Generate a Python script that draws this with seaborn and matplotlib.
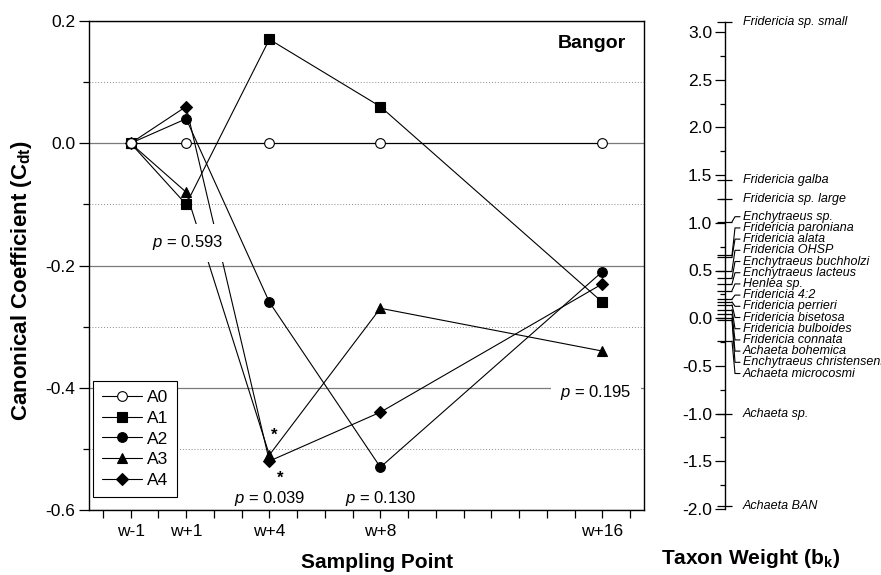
import numpy as np
import matplotlib
matplotlib.use("Agg")
import matplotlib.pyplot as plt
import seaborn as sns
from matplotlib.ticker import MultipleLocator, FixedLocator, FuncFormatter

# ---------------- data ----------------
weeks = [-1, 1, 4, 8, 16]
week_labels = ["w-1", "w+1", "w+4", "w+8", "w+16"]
series_names = ["A0", "A1", "A2", "A3", "A4"]
a0 = [0.0, 0.0, 0.0, 0.0, 0.0]
a1 = [0.0, -0.10, 0.17, 0.06, -0.26]
a2 = [0.0, 0.04, -0.26, -0.53, -0.21]
a3 = [0.0, -0.08, -0.51, -0.27, -0.34]
a4 = [0.0, 0.06, -0.52, -0.44, -0.23]
p_values = ["0.593", "0.039", "0.130", "0.195"]

taxa = ["Fridericia sp. small", "Fridericia galba", "Fridericia sp. large",
        "Enchytraeus sp.", "Fridericia paroniana", "Fridericia alata",
        "Fridericia OHSP", "Enchytraeus buchholzi", "Enchytraeus lacteus",
        "Henlea sp.", "Fridericia 4:2", "Fridericia perrieri",
        "Fridericia bisetosa", "Fridericia bulboides", "Fridericia connata",
        "Achaeta bohemica", "Enchytraeus christenseni", "Achaeta microcosmi",
        "Achaeta sp.", "Achaeta BAN"]
taxon_weights = [3.10, 1.45, 1.25, 1.01, 0.66, 0.64, 0.50, 0.42, 0.36, 0.29,
                 0.20, 0.17, 0.14, 0.09, 0.04, 0.00, -0.02, -0.24, -1.00, -1.97]

# ---------------- style ----------------
sns.set_style("ticks")
plt.rcParams["font.family"] = ["Liberation Sans", "DejaVu Sans"]
plt.rcParams["axes.unicode_minus"] = False
plt.rcParams["mathtext.fontset"] = "custom"
plt.rcParams["mathtext.rm"] = "Liberation Sans"
plt.rcParams["mathtext.it"] = "Liberation Sans:italic"
plt.rcParams["mathtext.bf"] = "Liberation Sans:bold"
for key in ["text.color", "axes.labelcolor", "xtick.color", "ytick.color",
            "xtick.labelcolor", "ytick.labelcolor", "axes.edgecolor"]:
    plt.rcParams[key] = "black"

W, H = 881, 575
fig = plt.figure(figsize=(W / 100, H / 100), dpi=100)

# main panel: pixel box 89..644 x 21..510
ax = fig.add_axes([89 / W, (H - 510) / H, 555 / W, 489 / H])

styles = {
    "A0": dict(marker="o", markersize=7, markerfacecolor="white", zorder=6),
    "A1": dict(marker="s", markersize=6.6, markerfacecolor="black", zorder=4),
    "A2": dict(marker="o", markersize=7, markerfacecolor="black", zorder=4),
    "A3": dict(marker="^", markersize=7.8, markerfacecolor="black", zorder=4),
    "A4": dict(marker="D", markersize=6.2, markerfacecolor="black", zorder=4),
}
for name, vals in zip(series_names, [a0, a1, a2, a3, a4]):
    sns.lineplot(x=weeks, y=vals, ax=ax, color="black", lw=0.8,
                 markeredgecolor="black", markeredgewidth=0.8,
                 label=name, legend=False, **styles[name])

ax.set_xlim(-2.5, 17.5)
ax.set_ylim(-0.6, 0.2)
ax.xaxis.set_major_locator(FixedLocator(weeks))
ax.xaxis.set_ticklabels(week_labels)
ax.xaxis.set_minor_locator(MultipleLocator(1))
ax.yaxis.set_major_locator(MultipleLocator(0.2))
ax.yaxis.set_minor_locator(MultipleLocator(0.1))
ax.yaxis.set_major_formatter(FuncFormatter(lambda v, p: f"{v:.1f}"))
ax.tick_params(axis="x", which="both", direction="out", length=5.8, width=0.9,
               labelsize=12.5, pad=4, colors="black")
ax.tick_params(axis="y", which="major", direction="out", length=7, width=0.9,
               labelsize=12.5, pad=3, colors="black")
ax.tick_params(axis="y", which="minor", direction="out", length=4.3, width=0.9,
               colors="black")
for s in ax.spines.values():
    s.set_visible(True)
    s.set_linewidth(1.0)
    s.set_color("black")

ax.set_axisbelow(True)
ax.yaxis.grid(True, which="major", ls="-", lw=0.9, color="#7a7a7a")
ax.yaxis.grid(True, which="minor", ls=(0, (1, 2)), lw=0.7, color="#8a8a8a")

ax.set_xlabel("Sampling Point", fontsize=15, fontweight="bold")
ax.xaxis.set_label_coords((377 - 89) / 555, (510 - 553) / 489)
ax.set_ylabel(r"Canonical Coefficient (C$_{\mathbf{dt}}$)", fontsize=16, fontweight="bold")
ax.yaxis.set_label_coords((34 - 89) / 555, (510 - 281) / 489)

ax.text(16.85, 0.164, "Bangor", ha="right", va="center", fontsize=14, fontweight="bold")

box = dict(boxstyle="square,pad=0.55", fc="white", ec="none")
ax.text(1.07, -0.163, rf"$p$ = {p_values[0]}", ha="center", va="center",
        fontsize=12, bbox=box, zorder=7)
ax.text(4.02, -0.581, rf"$p$ = {p_values[1]}", ha="center", va="center", fontsize=12, zorder=7)
ax.text(8.02, -0.581, rf"$p$ = {p_values[2]}", ha="center", va="center", fontsize=12, zorder=7)
ax.text(15.77, -0.408, rf"$p$ = {p_values[3]}", ha="center", va="center",
        fontsize=12, bbox=box, zorder=7)
ax.text(4.17, -0.478, "*", ha="center", va="center", fontsize=12, fontweight="bold")
ax.text(4.40, -0.548, "*", ha="center", va="center", fontsize=12, fontweight="bold")

handles, labels = ax.get_legend_handles_labels()
leg = ax.legend(handles, labels, loc="lower left",
                bbox_to_anchor=((93 - 89) / 555, (510 - 497) / 489),
                borderaxespad=0, fontsize=12.5, frameon=True, fancybox=False,
                framealpha=1, edgecolor="black", handlelength=2.3,
                handletextpad=0.3, labelspacing=0.33, borderpad=0.5)
leg.get_frame().set_linewidth(0.8)
leg.set_zorder(8)

# ---------------- taxon weight panel ----------------
y_lo, y_hi = -2.0, 3.1
px_per_unit = 95.4
ax2 = fig.add_axes([725 / W, (H - 509) / H, 150 / W, (y_hi - y_lo) * px_per_unit / H])
ax2.set_xlim(0, 150)
ax2.set_ylim(y_lo, y_hi)
for k in ["top", "right", "bottom"]:
    ax2.spines[k].set_visible(False)
ax2.spines["left"].set_linewidth(1.0)
ax2.spines["left"].set_color("black")
ax2.set_xticks([])
ax2.yaxis.set_major_locator(MultipleLocator(0.5))
ax2.yaxis.set_minor_locator(MultipleLocator(0.25))
ax2.yaxis.set_major_formatter(FuncFormatter(lambda v, p: f"{v:.1f}"))
ax2.tick_params(axis="y", which="major", direction="out", length=7.2, width=0.9,
                labelsize=12.5, pad=2, colors="black")
ax2.tick_params(axis="y", which="minor", direction="out", length=3.6, width=0.9,
                colors="black")
ax2.set_facecolor("none")
ax2.set_xlabel(r"Taxon Weight (b$_{\mathbf{k}}$)", fontsize=15, fontweight="bold")
ax2.xaxis.set_label_coords((751 - 725) / 150, (509 - 547) / ((y_hi - y_lo) * px_per_unit))


def spread(vals, gap):
    """Spread label positions so neighbours are at least `gap` apart."""
    vals = np.asarray(vals, dtype=float)
    order = list(np.argsort(-vals, kind="stable"))
    clusters = [[i] for i in order]

    def layout(c):
        m = 0.5 * (np.mean(vals[c]) + np.median(vals[c]))
        n = len(c)
        return [m + (n - 1) / 2 * gap - k * gap for k in range(n)]

    merged = True
    while merged:
        merged = False
        for j in range(len(clusters) - 1):
            a = layout(clusters[j])
            b = layout(clusters[j + 1])
            if a[-1] - b[0] < gap - 1e-9:
                clusters[j] = clusters[j] + clusters[j + 1]
                del clusters[j + 1]
                merged = True
                break
    pos = np.empty(len(vals))
    for c in clusters:
        for i, yy in zip(c, layout(c)):
            pos[i] = yy
    return pos


label_y = spread(taxon_weights, 11.2 / px_per_unit)
for name, w, ly in zip(taxa, taxon_weights, label_y):
    ax2.plot([-8, 7], [w, w], color="black", lw=0.9, clip_on=False, solid_capstyle="butt")
    if abs(ly - w) > 0.03:
        ax2.plot([7, 10, 15], [w, ly, ly], color="black", lw=0.8, clip_on=False)
    ax2.text(18, ly, name, ha="left", va="center", fontsize=9, fontstyle="italic",
             clip_on=False)

fig.savefig("out.png", dpi=100)
